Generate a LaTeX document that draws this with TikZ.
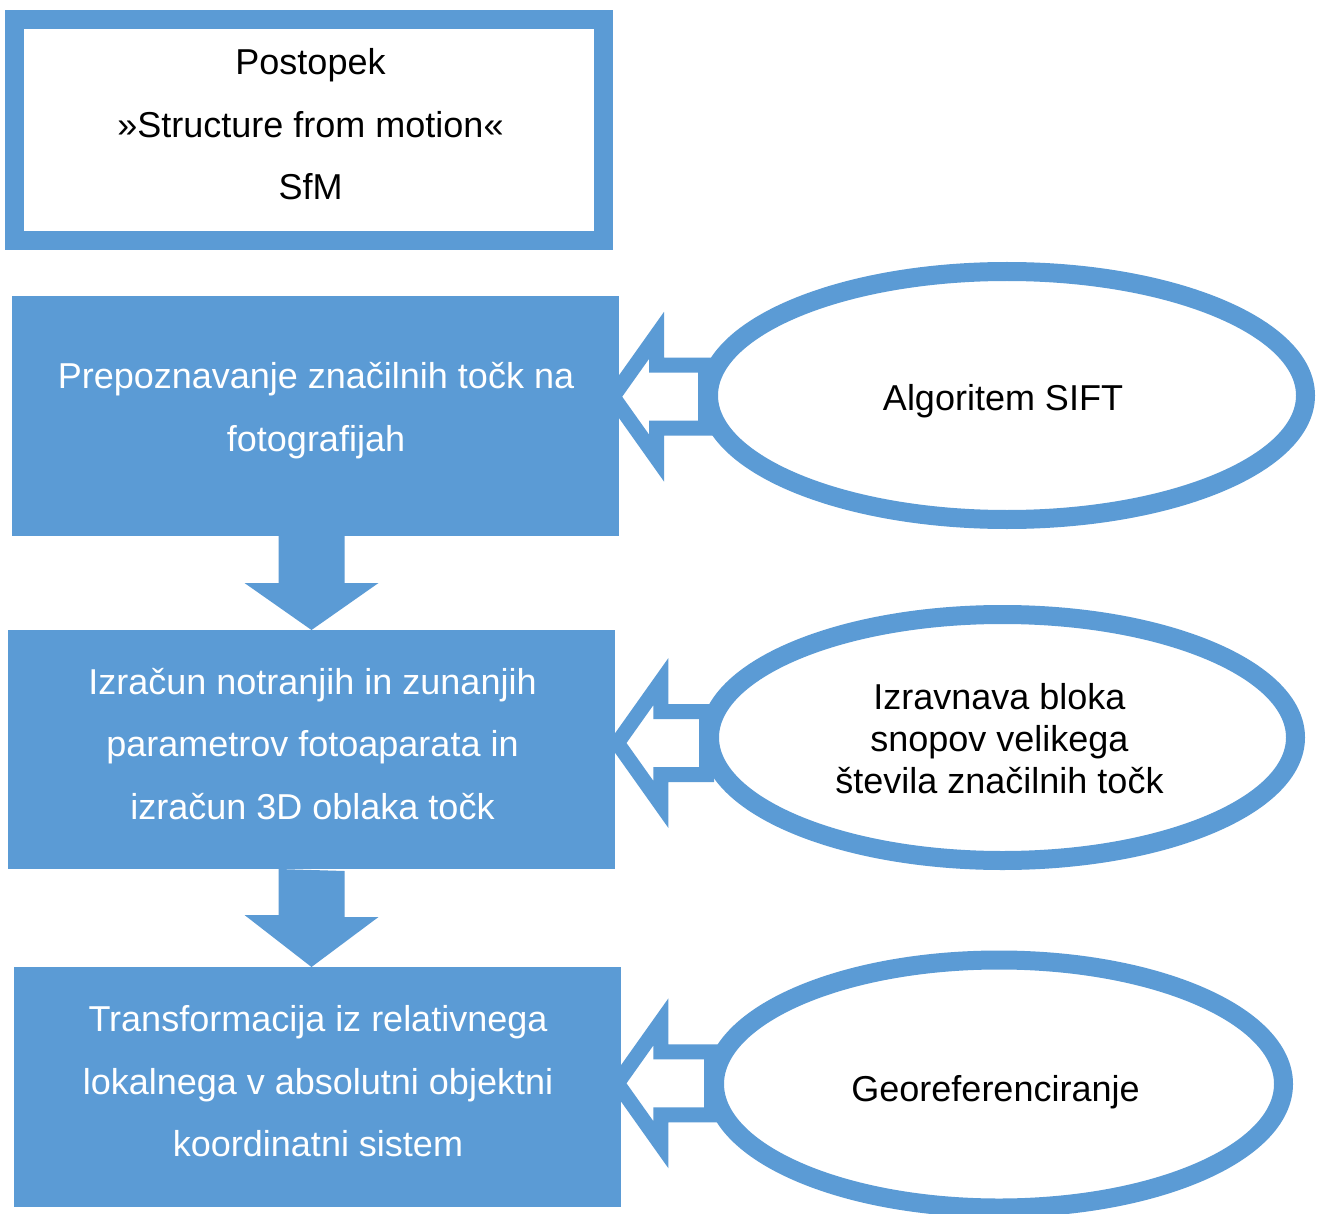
\documentclass[tikz,border=0pt]{standalone}
\usepackage{fontspec}
\setmainfont{Liberation Sans}
\usetikzlibrary{shapes.geometric,calc}
\definecolor{sfmblue}{HTML}{5B9BD5}
\pgfdeclarelayer{under}
\pgfsetlayers{under,main}

% hollow block arrow pointing left: #1 = tip, #2 = end of the shaft
\newcommand\feedarrow[2]{%
  \draw[feed] let \p1=(#1), \p2=(#2) in
    (\x1,\y1) -- (\x1+43.5pt,\y1+61.3pt) -- (\x1+43.5pt,\y1+31.5pt)
    -- (\x2,\y1+31.5pt) -- (\x2,\y1-31.5pt) -- (\x1+43.5pt,\y1-31.5pt)
    -- (\x1+43.5pt,\y1-61.3pt) -- cycle;}

\begin{document}
\begin{tikzpicture}[x=1pt,y=-1pt,
  every node/.style={inner sep=0pt, outer sep=0pt},
  titlebox/.style={rectangle, draw=sfmblue, line width=19pt, fill=white,
    minimum width=589pt, minimum height=221pt},
  stepbox/.style={rectangle, fill=sfmblue, minimum width=607pt, minimum height=240pt},
  sourcebox/.style={ellipse, draw=sfmblue, line width=19pt, fill=white},
  darktext/.style={text=black, align=center, font=\fontsize{36pt}{62.5pt}\selectfont},
  lighttext/.style={text=white, align=center, font=\fontsize{36pt}{62.5pt}\selectfont},
  flow/.style={fill=sfmblue},
  feed/.style={draw=sfmblue, line width=15pt, fill=white, line join=miter, miter limit=10}]

\useasboundingbox (0,0) rectangle (1322,1214);

% title
\node[titlebox] (sfm) at (309,130) {};
\node[darktext] (sfmtext) at (310.5,124.5) {Postopek\\»Structure from motion«\\SfM};

% processing steps
\node[stepbox] (b1) at (315.5,416) {};
\node[lighttext] (t1) at (316,410.6) {Prepoznavanje značilnih točk na\\fotografijah};
\node[stepbox, minimum height=239pt] (b2) at (311.5,749.5) {};
\node[lighttext] (t2) at (312.5,744) {Izračun notranjih in zunanjih\\parametrov fotoaparata in\\izračun 3D oblaka točk};
\node[stepbox] (b3) at (317.5,1087) {};
\node[lighttext] (t3) at (318,1081.5) {Transformacija iz relativnega\\lokalnega v absolutni objektni\\koordinatni sistem};

% methods feeding each step
\node[sourcebox, minimum width=597pt, minimum height=248pt] (e1) at (1007,395.5) {};
\node[darktext] (s1) at (1003,400.8) {Algoritem SIFT};
\node[sourcebox, minimum width=586pt, minimum height=246pt] (e2) at (1002.5,737.5) {};
\node[darktext, font=\fontsize{36pt}{42pt}\selectfont] (s2) at (999.5,739) {Izravnava bloka\\snopov velikega\\števila značilnih točk};
\node[sourcebox, minimum width=569pt, minimum height=248pt] (e3) at (999,1084) {};
\node[darktext] (s3) at (995.5,1091.8) {Georeferenciranje};

% block arrows between the steps
\fill[flow] ($(b1.south -| b2.north)+(-33,0)$) -- ++(0,47) -- ++(-34,0) -- (b2.north)
  -- ++(67,-47) -- ++(-34,0) -- ++(0,-47) -- cycle;
\fill[flow] ($(b2.south)+(-33,0)$) -- ++(0,46) -- ++(-34,0) -- (b2.south |- b3.north)
  -- ++(67,-50) -- ++(-34,0) -- ++(0,-46) -- cycle;

% hollow arrows from the methods into the steps
\coordinate (tip1) at ($(b1.east |- e1.center)+(-6,1.2)$);
\coordinate (tip2) at ($(b2.east |- e2.center)+(2.3,5.5)$);
\coordinate (tip3) at ($(b3.east |- e3.center)+(-3.7,-0.7)$);
\coordinate (end1) at ($(e1.west)+(-3,0)$);
\coordinate (end2) at ($(e2.west)+(-3,0)$);
\coordinate (end3) at ($(e3.west)+(-3,0)$);
\begin{pgfonlayer}{under}
  \fill[white] (0,0) rectangle (1322,1214);
  \feedarrow{tip1}{end1}
  \feedarrow{tip2}{end2}
  \feedarrow{tip3}{end3}
\end{pgfonlayer}
\end{tikzpicture}
\end{document}
